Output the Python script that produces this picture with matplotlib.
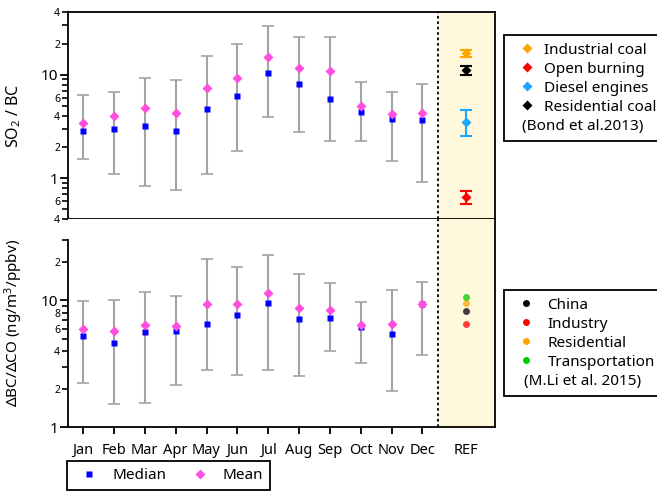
import numpy as np
import matplotlib
matplotlib.use('Agg')
import matplotlib.pyplot as plt
from matplotlib.ticker import FixedLocator, FixedFormatter
from matplotlib.lines import Line2D

plt.rcParams['font.family'] = ['Noto Sans', 'DejaVu Sans']
plt.rcParams['mathtext.fontset'] = 'custom'
plt.rcParams['mathtext.rm'] = 'Noto Sans'
plt.rcParams['mathtext.it'] = 'Noto Sans:italic'
plt.rcParams['mathtext.bf'] = 'Noto Sans:bold'

# monthly statistics
months = ['Jan', 'Feb', 'Mar', 'Apr', 'May', 'Jun', 'Jul', 'Aug', 'Sep', 'Oct', 'Nov', 'Dec']

so2_median = [2.84, 2.99, 3.17, 2.88, 4.70, 6.27, 10.4, 8.19, 5.78, 4.40, 3.77, 3.62]
so2_mean = [3.42, 3.96, 4.77, 4.27, 7.38, 9.35, 14.7, 11.6, 10.9, 4.99, 4.18, 4.24]
so2_upper = [6.37, 6.81, 9.21, 8.89, 15.2, 19.8, 29.9, 23.4, 23.4, 8.43, 6.81, 8.19]
so2_lower = [1.54, 1.09, 0.84, 0.77, 1.09, 1.82, 3.88, 2.78, 2.30, 2.30, 1.47, 0.92]

bc_median = [5.28, 4.59, 5.65, 5.75, 6.56, 7.72, 9.59, 7.14, 7.27, 6.18, 5.47, 9.40]
bc_mean = [5.96, 5.71, 6.36, 6.29, 9.37, 9.42, 11.4, 8.77, 8.35, 6.44, 6.53, 9.37]
bc_upper = [9.89, 10.1, 11.6, 10.8, 21.3, 18.2, 22.7, 16.1, 13.7, 9.71, 12.1, 14.0]
bc_lower = [2.22, 1.54, 1.56, 2.15, 2.84, 2.58, 2.84, 2.55, 4.00, 3.22, 1.93, 3.70]

# emission ratios from literature
bond_labels = ['Industrial coal', 'Open burning', 'Diesel engines', 'Residential coal']
bond_colors = ['#FFA500', '#FF0000', '#1AA7FF', '#000000']
bond_value = [16.2, 0.65, 3.52, 11.0]
bond_low = [15.0, 0.56, 2.54, 10.0]
bond_high = [17.4, 0.745, 4.60, 12.1]

li_labels = ['China', 'Industry', 'Residential', 'Transportation']
li_colors = ['#000000', '#FF0000', '#FFA500', '#00CC00']
li_value = [8.26, 6.56, 9.47, 10.7]

x = np.arange(1, 13)
x_ref = 13.4
x_split = 12.5
xlim = (0.5, 14.35)

err_color = '#A3A3A3'
median_color = '#0000FF'
mean_color = '#FF4FDF'
ref_bg = '#FFF8DC'

fig = plt.figure(figsize=(6.57, 4.93), dpi=100)
ax1 = fig.add_axes([0.103, 0.5552, 0.6504, 0.4195])
ax2 = fig.add_axes([0.103, 0.1329, 0.6504, 0.4223])


def monthly(ax, median, mean, lower, upper):
    med = np.array(median)
    yerr = [med - np.array(lower), np.array(upper) - med]
    ax.errorbar(x, med, yerr=yerr, fmt='none', ecolor=err_color, elinewidth=1.5,
                capsize=4.6, capthick=1.2, zorder=2)
    ax.plot(x, med, 's', color=median_color, ms=5, mec='none', zorder=3)
    ax.plot(x, mean, 'D', color=mean_color, ms=4.8, mec='none', zorder=4)


def frame(ax, ylim, minor_ticks, minor_labels):
    ax.set_xlim(*xlim)
    ax.set_yscale('log')
    ax.set_ylim(*ylim)
    ax.axvspan(x_split, xlim[1], color=ref_bg, zorder=0, lw=0)
    ax.axvline(x_split, color='black', lw=1.3, ls=(0, (1.5, 1.5)), zorder=1)
    ax.yaxis.set_major_locator(FixedLocator([1, 10]))
    ax.yaxis.set_major_formatter(FixedFormatter(['1', '10']))
    ax.yaxis.set_minor_locator(FixedLocator(minor_ticks))
    ax.yaxis.set_minor_formatter(FixedFormatter(minor_labels))
    ax.tick_params(axis='y', which='major', length=6, width=1.3, labelsize=11, pad=1)
    ax.tick_params(axis='y', which='minor', length=4, width=1.2, labelsize=7.5, pad=1.5)
    for s in ax.spines.values():
        s.set_linewidth(1.3)


# upper panel: SO2 / BC
monthly(ax1, so2_median, so2_mean, so2_lower, so2_upper)
for v, lo, hi, c in zip(bond_value, bond_low, bond_high, bond_colors):
    ax1.errorbar([x_ref], [v], yerr=[[v - lo], [hi - v]], fmt='D', color=c, ms=5,
                 mec='none', elinewidth=1.5, capsize=4, capthick=1.5, zorder=4)
top_minor = [0.4, 0.5, 0.6, 0.7, 0.8, 0.9, 2, 3, 4, 5, 6, 7, 8, 9, 20, 30, 40]
top_minor_lab = ['4', '', '6', '', '', '', '2', '', '4', '', '6', '', '', '', '2', '', '4']
frame(ax1, (0.4, 40), top_minor, top_minor_lab)
ax1.tick_params(axis='x', bottom=False, labelbottom=False)
ax1.set_ylabel('SO$_2$ / BC', fontsize=11.5)
ax1.yaxis.set_label_coords(-0.105, 0.5)

# lower panel: dBC/dCO
monthly(ax2, bc_median, bc_mean, bc_lower, bc_upper)
for v, c in zip(li_value, li_colors):
    ax2.plot([x_ref], [v], 'o', color=c, ms=5, mec='none', alpha=0.75, zorder=4)
bot_minor = [2, 3, 4, 5, 6, 7, 8, 9, 20, 30]
bot_minor_lab = ['2', '', '4', '', '6', '', '8', '', '2', '']
frame(ax2, (1, 43.6), bot_minor, bot_minor_lab)
ax2.spines['top'].set_visible(False)
ax2.spines['left'].set_bounds(1, 30)
ax2.set_xticks(list(x) + [x_ref])
ax2.set_xticklabels(months + ['REF'], fontsize=10.5)
ax2.tick_params(axis='x', length=5, width=1.3, pad=6)
ax2.xaxis.get_major_ticks()[-1].tick1line.set_visible(False)
ax2.set_ylabel('ΔBC/ΔCO (ng/m$^3$/ppbv)', fontsize=11)
ax2.yaxis.set_label_coords(-0.1, 0.5)

# legends
leg_kw = dict(loc='upper left', frameon=True, fancybox=False, edgecolor='black',
              framealpha=1, borderaxespad=0, fontsize=11, borderpad=0.5,
              labelspacing=0.26)

h = [Line2D([], [], marker='D', color=c, ls='none', ms=5, mec='none') for c in bond_colors]
h.append(Line2D([], [], ls='none'))
leg1 = fig.legend(h, bond_labels + [' '], bbox_to_anchor=(504 / 657, 1 - 35 / 493),
                  handlelength=2.0, handletextpad=0.15, **leg_kw)
leg1.get_frame().set_linewidth(1.3)
fig.text(522 / 657, 1 - 127 / 493, '(Bond et al.2013)', fontsize=11, va='center',
         zorder=10)

h = [Line2D([], [], marker='o', color=c, ls='none', ms=5, mec='none') for c in li_colors]
h.append(Line2D([], [], ls='none'))
leg2 = fig.legend(h, li_labels + [' '], bbox_to_anchor=(504 / 657, 1 - 290 / 493),
                  handlelength=1.85, handletextpad=0.5, **leg_kw)
leg2.get_frame().set_linewidth(1.3)
fig.text(583 / 657, 1 - 381 / 493, '(M.Li et al. 2015)', fontsize=11,
         va='center', ha='center', zorder=10)

h = [Line2D([], [], marker='s', color=median_color, ls='none', ms=5, mec='none'),
     Line2D([], [], marker='D', color=mean_color, ls='none', ms=4.8, mec='none')]
leg3 = fig.legend(h, ['Median', 'Mean'], ncol=2, bbox_to_anchor=(67 / 657, 1 - 461 / 493),
                  handlelength=2.0, handletextpad=0.5, columnspacing=1.2,
                  **{**leg_kw, 'borderpad': 0.45})
leg3.get_frame().set_linewidth(1.3)

fig.savefig('out.png', dpi=100)
